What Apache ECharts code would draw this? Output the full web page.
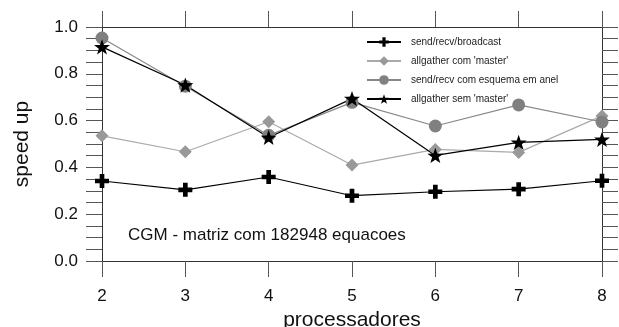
<!DOCTYPE html>
<html>
<head>
<meta charset="utf-8">
<script src="https://cdn.jsdelivr.net/npm/echarts@6/dist/echarts.min.js"></script>
<style>
  html, body { margin: 0; padding: 0; background: #fff; }
  #chart { width: 619px; height: 327px; }
</style>
</head>
<body>
<div id="chart"></div>
<script>
// processadores on x
const procs = [2, 3, 4, 5, 6, 7, 8]

const seriesNames = [
  'send/recv/broadcast',
  "allgather com 'master'",
  'send/recv com esquema em anel',
  "allgather sem 'master'"
]

const broadcast = [0.342, 0.304, 0.359, 0.279, 0.296, 0.307, 0.343]
const allgatherMaster = [0.535, 0.467, 0.595, 0.410, 0.477, 0.464, 0.620]
const anel = [0.953, 0.747, 0.537, 0.678, 0.577, 0.667, 0.594]
const allgatherSemMaster = [0.915, 0.752, 0.528, 0.694, 0.451, 0.507, 0.520]

const yLabels = ['0.0', '0.2', '0.4', '0.6', '0.8', '1.0']
const note = 'CGM - matriz com 182948 equacoes'

const FONT = 'Liberation Sans, Arial, sans-serif'
const STAR = 'path://M0,-10 L2.35,-3.24 L9.51,-3.09 L3.8,1.24 L5.88,8.09 L0,4 L-5.88,8.09 L-3.8,1.24 L-9.51,-3.09 L-2.35,-3.24 Z'
const PLUS = 'path://M-2,-6 L2,-6 L2,-2 L6,-2 L6,2 L2,2 L2,6 L-2,6 L-2,2 L-6,2 L-6,-2 L-2,-2 Z'

function pairs(vals) {
  return procs.map((p, i) => [p, vals[i]])
}

function yLabel(v) {
  const k = Math.round(v * 5)
  if (Math.abs(v * 5 - k) > 1e-6) return ''
  return yLabels[k] || ''
}

const chart = echarts.init(document.getElementById('chart'), null, { renderer: 'canvas' })

const tickStyle = { color: '#555', width: 1 }
const lineStyle = { color: '#333', width: 1 }

chart.setOption({
  animation: false,
  backgroundColor: '#fff',
  textStyle: { fontFamily: FONT },
  grid: { left: 102, right: 17, top: 27, bottom: 66, outerBoundsMode: 'none', containLabel: false },
  legend: {
    orient: 'vertical',
    left: 361,
    top: 32,
    itemWidth: 34,
    itemHeight: 12,
    itemGap: 9,
    textStyle: { fontSize: 10, color: '#222', fontFamily: FONT, padding: [0, 0, 0, 5] },
    data: seriesNames
  },
  xAxis: [{
    type: 'value', min: 2, max: 8, interval: 1, position: 'bottom',
    name: 'processadores', nameLocation: 'middle', nameGap: 43,
    nameTextStyle: { fontSize: 21, color: '#111', fontFamily: FONT },
    axisLine: { onZero: false, lineStyle: lineStyle },
    axisTick: { length: 16, lineStyle: tickStyle },
    axisLabel: { fontSize: 17, color: '#111', margin: 27, fontFamily: FONT },
    splitLine: { show: false }
  }, {
    type: 'value', min: 2, max: 8, interval: 1, position: 'top',
    axisLine: { onZero: false, lineStyle: lineStyle },
    axisTick: { length: 16, lineStyle: tickStyle },
    axisLabel: { show: false },
    splitLine: { show: false }
  }],
  yAxis: [{
    type: 'value', min: 0, max: 1, interval: 0.05, position: 'left',
    name: 'speed up', nameLocation: 'middle', nameGap: 69, nameRotate: 90,
    nameTextStyle: { fontSize: 21, color: '#111', fontFamily: FONT },
    axisLine: { show: true, onZero: false, lineStyle: lineStyle },
    axisTick: { show: true, length: 16, lineStyle: tickStyle },
    axisLabel: { fontSize: 17, color: '#111', margin: 24, formatter: yLabel, fontFamily: FONT },
    splitLine: { show: false }
  }, {
    type: 'value', min: 0, max: 1, interval: 0.05, position: 'right',
    axisLine: { show: true, onZero: false, lineStyle: lineStyle },
    axisTick: { show: true, length: 16, lineStyle: tickStyle },
    axisLabel: { show: false },
    splitLine: { show: false }
  }],
  graphic: [{
    type: 'text', left: 128, top: 227,
    style: { text: note, fontSize: 17, fill: '#111', fontFamily: FONT }
  }],
  series: [{
    name: seriesNames[0], type: 'line', data: pairs(broadcast),
    symbol: PLUS, symbolSize: 14, symbolKeepAspect: true,
    lineStyle: { color: '#000', width: 1.2 }, itemStyle: { color: '#000' }
  }, {
    name: seriesNames[1], type: 'line', data: pairs(allgatherMaster),
    symbol: 'diamond', symbolSize: 13,
    lineStyle: { color: '#aaa', width: 1.2 }, itemStyle: { color: '#999' }
  }, {
    name: seriesNames[2], type: 'line', data: pairs(anel),
    symbol: 'circle', symbolSize: 13,
    lineStyle: { color: '#888', width: 1.2 }, itemStyle: { color: '#808080' }
  }, {
    name: seriesNames[3], type: 'line', data: pairs(allgatherSemMaster),
    symbol: STAR, symbolSize: 16, symbolKeepAspect: true,
    lineStyle: { color: '#000', width: 1.2 }, itemStyle: { color: '#000' }
  }]
})

window.addEventListener('resize', () => chart.resize())
</script>
</body>
</html>
